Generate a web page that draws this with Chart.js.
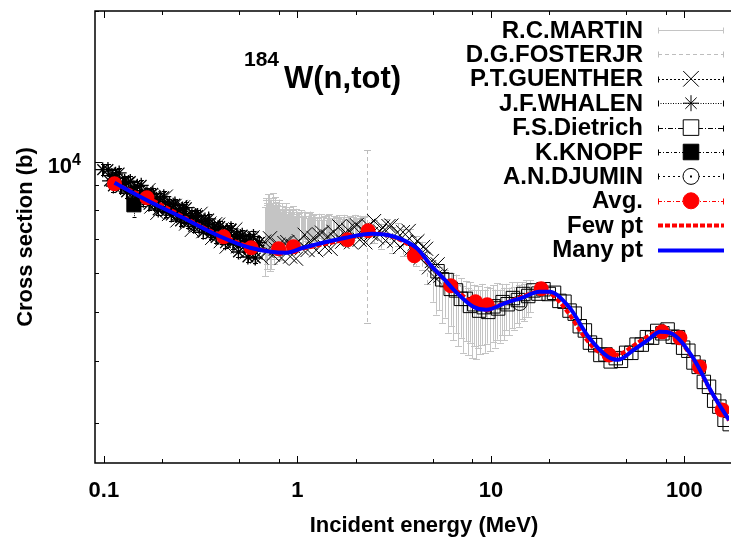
<!DOCTYPE html>
<html>
<head>
<meta charset="utf-8">
<script src="https://cdn.jsdelivr.net/npm/chart.js@4.4.1/dist/chart.umd.min.js"></script>
<style>
  html, body { margin: 0; padding: 0; background: #fff; }
  canvas { display: block; }
</style>
</head>
<body>
<canvas id="xs" width="740" height="537"></canvas>
<script>
// ---- 184W total neutron cross section: measurements, average and fits ----

// R.C.MARTIN (energy MeV, cross section b, uncertainty b)
const martinE = [0.68, 0.69, 0.70, 0.71, 0.72, 0.73, 0.74, 0.75, 0.76, 0.775, 0.79, 0.805, 0.82, 0.835, 0.85, 0.87, 0.89, 0.91, 0.93, 0.95, 0.97, 0.99, 1.01, 1.04, 1.07, 1.10, 1.13, 1.16, 1.19, 1.22, 1.26, 1.30, 1.34, 1.38, 1.42, 1.46, 1.50, 1.55, 1.60, 1.65, 1.70, 1.75, 1.80, 1.86, 1.92, 1.98, 2.04, 2.10, 2.17, 2.24,
  0.685, 0.695, 0.705, 0.715, 0.725, 0.735, 0.745, 0.755, 0.768, 0.783, 0.798, 0.813, 0.828, 0.843, 0.86, 0.88, 0.90, 0.92, 0.94, 0.96, 0.98, 1.00, 1.025, 1.055, 1.085, 1.115, 1.145, 1.175, 1.205, 1.24, 1.28, 1.32, 1.36, 1.40, 1.44, 1.48, 1.525, 1.575, 1.625, 1.675, 1.725, 1.775, 1.83, 1.89, 1.95, 2.01, 2.07, 2.135, 2.2,
  5.0, 5.2, 5.4, 5.6, 5.8, 6.0, 6.2, 6.4, 6.6, 6.8, 7.0, 7.2, 7.4, 7.6, 7.8, 8.0, 8.2, 8.4, 8.6, 8.8, 9.0, 9.3, 9.6, 9.9, 10.2, 10.5, 10.8, 11.1, 11.4, 11.7, 12.0, 12.4, 12.8, 13.2, 13.6, 14.0, 14.4, 14.8, 15.2, 15.6, 16.0];
const martinS = [7000, 7500, 7250, 7700, 7100, 7550, 7350, 7800, 7200, 7500, 7300, 7650, 7150, 7450, 7350, 7600, 7250, 7450, 7300, 7550, 7200, 7400, 7300, 7500, 7250, 7450, 7350, 7500, 7250, 7400, 7300, 7450, 7250, 7400, 7300, 7480, 7280, 7420, 7300, 7450, 7320, 7480, 7350, 7450, 7320, 7500, 7380, 7480, 7350, 7500,
  7400, 7150, 7650, 7300, 7500, 7050, 7600, 7250, 7700, 7350, 7500, 7200, 7550, 7300, 7450, 7200, 7500, 7350, 7400, 7250, 7500, 7350, 7400, 7300, 7500, 7250, 7450, 7300, 7400, 7350, 7250, 7450, 7350, 7250, 7450, 7350, 7300, 7400, 7350, 7250, 7400, 7350, 7420, 7280, 7450, 7350, 7420, 7300, 7450,
  5700, 5450, 5600, 5300, 5480, 5150, 5350, 5050, 5250, 4980, 5150, 4900, 5080, 4850, 5050, 4800, 4980, 4780, 4950, 4830, 5000, 4850, 4980, 4880, 5020, 4900, 5060, 4950, 5100, 5000, 5150, 5050, 5200, 5120, 5250, 5180, 5300, 5250, 5350, 5300, 5400];
const martinD = [1100, 950, 1000, 900, 1050, 850, 900, 850, 950, 800, 850, 750, 800, 700, 700, 650, 700, 600, 600, 600, 550, 550, 550, 500, 500, 500, 450, 450, 450, 450, 420, 420, 400, 400, 400, 380, 380, 370, 360, 360, 350, 350, 340, 340, 330, 330, 320, 320, 310, 300,
  1000, 1050, 950, 900, 900, 950, 850, 850, 800, 850, 750, 800, 700, 750, 650, 650, 600, 650, 600, 550, 550, 500, 500, 500, 450, 450, 450, 450, 420, 420, 400, 400, 400, 380, 380, 370, 360, 360, 350, 350, 340, 340, 330, 330, 320, 320, 310, 310, 300,
  450, 500, 550, 550, 600, 600, 650, 650, 700, 700, 700, 750, 700, 750, 700, 750, 700, 750, 700, 700, 700, 700, 650, 700, 650, 650, 650, 600, 600, 600, 550, 550, 550, 500, 500, 500, 450, 450, 450, 400, 400];

// D.G.FOSTERJR
const fosterE = [2.30, 2.50, 2.70, 2.90, 3.10, 3.30, 3.50, 3.80, 4.10, 4.40, 4.70];
const fosterS = [7650, 7250, 7100, 7300, 7000, 7150, 6900, 6950, 6650, 6500, 6150];
const fosterD = [2900, 380, 420, 380, 420, 380, 420, 400, 450, 420, 450];

// P.T.GUENTHER
const guentherE = [0.170, 0.176, 0.182, 0.189, 0.195, 0.202, 0.209, 0.217, 0.224, 0.232, 0.240, 0.249, 0.257, 0.266, 0.276, 0.285, 0.295, 0.306, 0.316, 0.327, 0.339, 0.351, 0.363, 0.376, 0.389, 0.402, 0.416, 0.431, 0.446, 0.462, 0.478, 0.494, 0.512, 0.530, 0.548, 0.567, 0.587, 0.608, 0.629, 0.651, 0.674, 0.697, 0.722, 0.747, 0.773, 0.800, 0.828, 0.857, 0.887, 0.918, 0.950, 0.984, 1.018, 1.054, 1.091, 1.129, 1.168, 1.209, 1.251, 1.295, 1.341, 1.388, 1.436, 1.486, 1.538, 1.592, 1.648, 1.706, 1.765, 1.827, 1.891, 1.957, 2.026, 2.097, 2.170, 2.246, 2.324, 2.406, 2.490, 2.577, 2.667, 2.760, 2.857, 2.957, 3.061, 3.168, 3.279, 3.393, 3.512, 3.635, 3.762, 3.894, 4.030, 4.171, 4.317, 4.468, 4.625, 4.786, 4.954, 5.127, 5.307, 5.492];
const guentherS = [8770, 8134, 8455, 7902, 8462, 8081, 8516, 7861, 8053, 8158, 7632, 8119, 8110, 7522, 7813, 7308, 7820, 7466, 7867, 7263, 7431, 7523, 7043, 7499, 7483, 6937, 7222, 6766, 7254, 6941, 7321, 6771, 6942, 7043, 6602, 7039, 7059, 6572, 6862, 6437, 6924, 6642, 7030, 6517, 6703, 6821, 6419, 6876, 6907, 6463, 6779, 6400, 6932, 6710, 7144, 6661, 6885, 7043, 6654, 7156, 7214, 6756, 7089, 6696, 7240, 6986, 7426, 6920, 7151, 7308, 6903, 7417, 7470, 6983, 7315, 6899, 7447, 7174, 7608, 7056, 7261, 7394, 6955, 7435, 7453, 6939, 7219, 6753, 7231, 6909, 7269, 6705, 6855, 6935, 6416, 6756, 6699, 6150, 6332, 5877, 6236, 5920];

// J.F.WHALEN
const whalenE = [0.0986, 0.105, 0.107, 0.110, 0.112, 0.115, 0.117, 0.120, 0.122, 0.125, 0.128, 0.131, 0.134, 0.137, 0.140, 0.143, 0.146, 0.149, 0.153, 0.156, 0.160, 0.163, 0.167, 0.171, 0.175, 0.179, 0.183, 0.187, 0.191, 0.195, 0.200, 0.204, 0.209, 0.213, 0.218, 0.223, 0.228, 0.233, 0.238, 0.244, 0.249, 0.255, 0.261, 0.267, 0.273, 0.279, 0.285, 0.291, 0.298, 0.305, 0.311, 0.318, 0.326, 0.333, 0.340, 0.348, 0.356, 0.364, 0.372, 0.380, 0.389, 0.397, 0.406, 0.415, 0.425, 0.434, 0.444, 0.454, 0.464, 0.475, 0.485, 0.496, 0.507, 0.519, 0.530, 0.542, 0.555, 0.567, 0.580, 0.593, 0.606, 0.620, 0.634];
const whalenS = [9640, 9645, 9153, 9382, 8940, 9440, 9091, 9495, 8879, 9056, 9142, 8697, 9089, 9129, 8646, 8870, 8446, 8926, 8579, 8968, 8369, 8545, 8629, 8218, 8600, 8646, 8199, 8411, 8008, 8462, 8134, 8511, 7954, 8128, 8213, 7822, 8185, 8229, 7803, 7997, 7614, 8044, 7742, 8092, 7562, 7719, 7800, 7428, 7766, 7806, 7407, 7598, 7230, 7642, 7354, 7683, 7178, 7329, 7407, 7054, 7376, 7417, 7035, 7224, 6885, 7284, 7015, 7341, 6868, 7018, 7100, 6600, 7088, 7132, 6771, 6952, 6450, 7005, 6758, 7086, 6420, 6802, 6894];
const whalenRelErr = 0.025;

// F.S.Dietrich
const dietrichE = [5.3, 5.6, 5.9, 6.2, 6.6, 7.0, 7.4, 7.8, 8.2, 8.7, 9.2, 9.7, 10.3, 10.9, 11.5, 12.2, 13.0, 13.8, 14.7, 15.6, 16.6, 17.6, 18.7, 19.9, 21.2, 22.6, 24.0, 25.5, 27.1, 28.8, 30.6, 32.5, 34.6, 36.8, 39.1, 41.6, 44.2, 47.0, 50.0, 53.2, 56.6, 60.2, 64.0, 68.1, 72.4, 77.0, 81.9, 87.1, 92.6, 98.5, 104.8, 111.4, 118.5, 126.0, 134.0, 142.5, 151.6, 161.2, 171.4];
const dietrichS = [6040, 5820, 5800, 5570, 5530, 5320, 5320, 5150, 5190, 5040, 5120, 5010, 5140, 5090, 5240, 5190, 5340, 5290, 5440, 5390, 5530, 5450, 5560, 5440, 5470, 5270, 5250, 5040, 4970, 4690, 4600, 4350, 4300, 4110, 4120, 3990, 4050, 4000, 4150, 4150, 4310, 4310, 4460, 4450, 4590, 4540, 4620, 4470, 4460, 4250, 4190, 3970, 3890, 3630, 3550, 3330, 3240, 3050, 2990];

// K.KNOPF
const knopfE = [0.143];
const knopfS = [8200];
const knopfD = [450];

// A.N.DJUMIN
const djuminE = [14.1];
const djuminS = [5220];

// Avg.
const avgE = [0.1135, 0.167, 0.416, 0.577, 0.80, 0.954, 1.816, 2.32, 4.02, 6.2, 8.32, 9.57, 18.2, 40.8, 76.8, 94.8, 119.7, 156.7];
const avgS = [9036, 8472, 7079, 6730, 6699, 6761, 6982, 7278, 6486, 5649, 5248, 5176, 5572, 4111, 4571, 4446, 3890, 3192];

// Few pt fit
const fewE = [0.1135, 0.167, 0.416, 0.8, 1.0, 1.8, 2.4, 3.2, 4.0, 5.0, 6.2, 8.3, 9.6, 12, 15, 18.2, 21, 25, 30, 35, 40.8, 48, 55, 65, 76.8, 90, 110, 140, 170];
const fewS = [9036, 8472, 7079, 6600, 6680, 7000, 7200, 7050, 6700, 6150, 5650, 5200, 5100, 5230, 5400, 5520, 5400, 5000, 4500, 4200, 4100, 4150, 4300, 4480, 4600, 4480, 4050, 3430, 3040];

// Many pt fit
const manyE = [0.1135, 0.165, 0.25, 0.402, 0.57, 0.879, 1.073, 1.774, 2.43, 3.18, 4.17, 4.91, 5.72, 6.43, 8.12, 9.46, 11.95, 14.5, 17.8, 20.0, 25.3, 31.9, 40.3, 45.3, 54.7, 65, 75, 84.3, 110, 139, 170];
const manyS = [9078, 8395, 7762, 7079, 6730, 6577, 6730, 7047, 7178, 7079, 6700, 6200, 5830, 5546, 5129, 5058, 5224, 5346, 5495, 5495, 5129, 4467, 4074, 4018, 4207, 4406, 4571, 4550, 4074, 3451, 3048];

// Axis ticks
const xMajorTicks = [0.1, 1, 10, 100];
const xTickLabels = ['0.1', '1', '10', '100'];
const xMinorTicks = [0.2, 0.5, 0.8, 2, 5, 8, 20, 50, 80];
const yMajorTicks = [10000];
const yMinorTicks = [3000, 4000, 5000, 6000, 7000, 8000, 9000, 20000];

const FONT = "'Liberation Sans', Arial, Helvetica, sans-serif";
const pts = (xs, ys) => xs.map((x, i) => ({ x, y: ys[i] }));

const datasets = [
  { label: 'R.C.MARTIN', data: pts(martinE, martinS), errors: martinD, errColor: '#c4c4c4', errDash: [], errCap: 3.5,
    pointRadius: 0, borderColor: '#c4c4c4', order: 9,
    key: { color: '#c4c4c4', dash: [], caps: true } },
  { label: 'D.G.FOSTERJR', data: pts(fosterE, fosterS), errors: fosterD, errColor: '#bdbdbd', errDash: [4, 3], errCap: 3.5,
    pointRadius: 0, borderColor: '#bdbdbd', order: 8,
    key: { color: '#bdbdbd', dash: [4, 3], caps: true } },
  { label: 'P.T.GUENTHER', data: pts(guentherE, guentherS), pointStyle: 'crossRot', pointRadius: 10, borderWidth: 1,
    borderColor: '#000', backgroundColor: '#000', order: 7,
    key: { color: '#000', dash: [2, 2], caps: true, radius: 11 } },
  { label: 'J.F.WHALEN', data: pts(whalenE, whalenS), relErr: whalenRelErr, errColor: '#000', errDash: [], errCap: 2.5,
    pointStyle: 'star', pointRadius: 7.5, borderWidth: 1.3,
    borderColor: '#000', backgroundColor: '#000', order: 6,
    key: { color: '#000', dash: [1, 1.5], caps: true, radius: 8 } },
  { label: 'F.S.Dietrich', data: pts(dietrichE, dietrichS), pointStyle: 'rect', pointRadius: 9.5, borderWidth: 1,
    borderColor: '#000', backgroundColor: 'rgba(0,0,0,0)', order: 5,
    key: { color: '#000', dash: [5, 2, 1, 2], caps: true, radius: 11 } },
  { label: 'K.KNOPF', data: pts(knopfE, knopfS), errors: knopfD, errColor: '#000', errDash: [1, 1], errCap: 2,
    pointStyle: 'rect', pointRadius: 10, borderWidth: 1, borderColor: '#000', backgroundColor: '#000', order: 4,
    key: { color: '#000', dash: [3, 2, 1, 2], caps: true, radius: 11 } },
  { label: 'A.N.DJUMIN', data: pts(djuminE, djuminS), pointStyle: 'circle', pointRadius: 7.5, borderWidth: 1,
    borderColor: '#000', backgroundColor: 'rgba(0,0,0,0)', order: 3,
    key: { color: '#000', dash: [2, 3], caps: true, radius: 8, dot: true } },
  { label: 'Avg.', data: pts(avgE, avgS), pointStyle: 'circle', pointRadius: 7.5, borderWidth: 0,
    borderColor: '#ff0000', backgroundColor: '#ff0000', order: 2,
    key: { color: '#ff0000', dash: [4, 2, 1, 2], caps: true, radius: 8 } },
  { label: 'Few pt', data: pts(fewE, fewS), showLine: true, pointRadius: 0, borderWidth: 4, borderDash: [5, 2],
    borderColor: '#ff0000', cubicInterpolationMode: 'monotone', order: 1,
    key: { color: '#ff0000', dash: [5, 2], width: 4 } },
  { label: 'Many pt', data: pts(manyE, manyS), showLine: true, pointRadius: 0, borderWidth: 4,
    borderColor: '#0000ff', cubicInterpolationMode: 'monotone', order: 0,
    key: { color: '#0000ff', dash: [], width: 4 } }
];

// vertical uncertainty bars, drawn just beneath each dataset's markers
const errorBars = {
  id: 'errorBars',
  beforeDatasetDraw(chart, args) {
    const ds = chart.data.datasets[args.index];
    if (!ds.errors && !ds.relErr) return;
    const { ctx, chartArea: a, scales: { x, y } } = chart;
    ctx.save();
    ctx.beginPath();
    ctx.rect(a.left, a.top, a.right - a.left, a.bottom - a.top);
    ctx.clip();
    ctx.strokeStyle = ds.errColor;
    ctx.lineWidth = 1;
    ds.data.forEach((p, i) => {
      const e = ds.errors ? ds.errors[i] : p.y * ds.relErr;
      const px = Math.round(x.getPixelForValue(p.x)) + 0.5;
      const top = y.getPixelForValue(p.y + e);
      const bot = y.getPixelForValue(p.y - e);
      ctx.setLineDash(ds.errDash);
      ctx.beginPath();
      ctx.moveTo(px, top);
      ctx.lineTo(px, bot);
      ctx.stroke();
      ctx.setLineDash([]);
      ctx.beginPath();
      ctx.moveTo(px - ds.errCap, Math.round(top) + 0.5);
      ctx.lineTo(px + ds.errCap, Math.round(top) + 0.5);
      ctx.moveTo(px - ds.errCap, Math.round(bot) + 0.5);
      ctx.lineTo(px + ds.errCap, Math.round(bot) + 0.5);
      ctx.stroke();
    });
    ctx.restore();
  }
};

// frame, inward ticks, tick labels, axis titles, plot title and key
const frame = {
  id: 'frame',
  afterDraw(chart) {
    const { ctx, chartArea: a, scales: { x, y } } = chart;
    ctx.save();
    ctx.strokeStyle = '#000';
    ctx.fillStyle = '#000';
    ctx.setLineDash([]);

    // border (left, top, bottom)
    ctx.lineWidth = 1.5;
    ctx.beginPath();
    ctx.moveTo(a.right + 2, a.top);
    ctx.lineTo(a.left, a.top);
    ctx.lineTo(a.left, a.bottom);
    ctx.lineTo(a.right + 2, a.bottom);
    ctx.stroke();

    // ticks
    ctx.lineWidth = 1;
    const seg = (x0, y0, x1, y1) => { ctx.beginPath(); ctx.moveTo(x0, y0); ctx.lineTo(x1, y1); ctx.stroke(); };
    const xt = (v, len) => {
      const px = Math.round(x.getPixelForValue(v)) + 0.5;
      seg(px, a.bottom, px, a.bottom - len);
      seg(px, a.top, px, a.top + len);
    };
    xMajorTicks.forEach(v => xt(v, 7));
    xMinorTicks.forEach(v => xt(v, 4));
    const yt = (v, len) => {
      const py = Math.round(y.getPixelForValue(v)) + 0.5;
      seg(a.left, py, a.left + len, py);
    };
    yMajorTicks.forEach(v => yt(v, 7));
    yMinorTicks.forEach(v => yt(v, 4));

    // x tick labels
    ctx.font = `bold 22px ${FONT}`;
    ctx.textAlign = 'center';
    ctx.textBaseline = 'alphabetic';
    xMajorTicks.forEach((v, i) => ctx.fillText(xTickLabels[i], x.getPixelForValue(v), a.bottom + 34));

    // y tick label 10^4
    yMajorTicks.forEach(v => {
      const py = y.getPixelForValue(v);
      const exp = String(Math.round(Math.log10(v)));
      ctx.font = `bold 16px ${FONT}`;
      const we = ctx.measureText(exp).width;
      ctx.font = `bold 22px ${FONT}`;
      const wb = ctx.measureText('10').width;
      const right = a.left - 14;
      ctx.textAlign = 'left';
      ctx.fillText('10', right - we - wb, py + 11);
      ctx.font = `bold 16px ${FONT}`;
      ctx.fillText(exp, right - we, py + 3);
    });

    // axis titles
    ctx.font = `bold 22px ${FONT}`;
    ctx.textAlign = 'center';
    ctx.fillText('Incident energy (MeV)', 424, a.bottom + 69);
    ctx.save();
    ctx.translate(32, (a.top + a.bottom) / 2);
    ctx.rotate(-Math.PI / 2);
    ctx.fillText('Cross section (b)', 0, 0);
    ctx.restore();

    // plot title
    ctx.textAlign = 'left';
    ctx.font = `bold 21px ${FONT}`;
    ctx.fillText('184', 244, 66);
    ctx.font = `bold 31px ${FONT}`;
    ctx.fillText('W(n,tot)', 284, 88);

    // key
    const textRight = 643, x0 = 658, x1 = 724, top = 30, step = 24.4;
    chart.data.datasets.forEach((ds, i) => {
      const k = ds.key;
      const cy = top + i * step;
      ctx.fillStyle = '#000';
      ctx.font = `bold 24px ${FONT}`;
      ctx.textAlign = 'right';
      ctx.textBaseline = 'middle';
      ctx.fillText(ds.label, textRight, cy + 1);
      const ly = Math.round(cy) + 0.5;
      ctx.strokeStyle = k.color;
      ctx.lineWidth = k.width || 1;
      ctx.setLineDash(k.dash);
      seg(x0, ly, x1, ly);
      ctx.setLineDash([]);
      if (k.caps) {
        ctx.lineWidth = 1;
        seg(x0 + 0.5, ly - 3, x0 + 0.5, ly + 3);
        seg(x1 - 0.5, ly - 3, x1 - 0.5, ly + 3);
      }
      if (ds.pointStyle && k.radius) {
        const mx = (x0 + x1) / 2;
        ctx.strokeStyle = ds.borderColor;
        ctx.fillStyle = ds.backgroundColor === 'rgba(0,0,0,0)' ? '#fff' : ds.backgroundColor;
        ctx.lineWidth = 1;
        Chart.helpers.drawPoint(ctx, { pointStyle: ds.pointStyle, rotation: 0, radius: k.radius, borderWidth: 1 }, mx, cy);
        if (k.dot) {
          ctx.fillStyle = '#000';
          ctx.fillRect(mx - 1, ly - 1, 2, 2);
        }
      }
      ctx.textBaseline = 'alphabetic';
    });
    ctx.restore();
  }
};

new Chart(document.getElementById('xs'), {
  type: 'scatter',
  data: { datasets },
  options: {
    responsive: false,
    animation: false,
    events: [],
    layout: { padding: { left: 95, top: 10, right: 0, bottom: 74 } },
    scales: {
      x: { type: 'logarithmic', min: 0.09, max: 170, display: false },
      y: { type: 'logarithmic', min: 2500, max: 20000, display: false }
    },
    plugins: {
      legend: { display: false },
      tooltip: { enabled: false },
      title: { display: false }
    }
  },
  plugins: [errorBars, frame]
});
</script>
</body>
</html>
